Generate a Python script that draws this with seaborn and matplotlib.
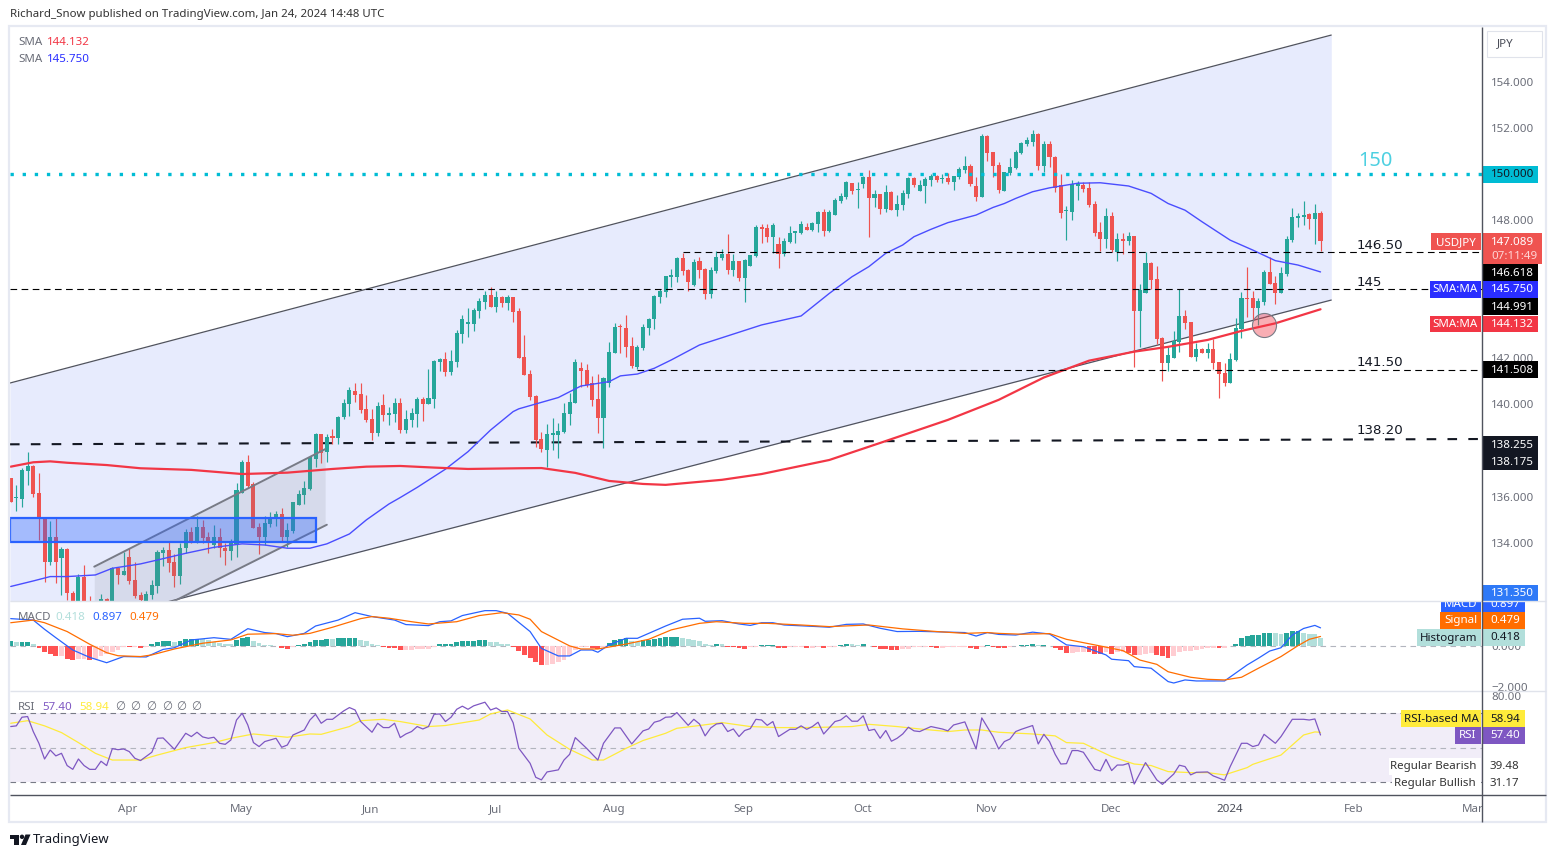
import matplotlib
matplotlib.use("Agg")
import matplotlib.pyplot as plt
from matplotlib.patches import Rectangle, Circle, Polygon
import seaborn as sns

# USDJPY daily candles
opens = [136.79,135.94,135.90,137.13,137.33,136.14,135.05,133.18,134.23,133.35,
    133.73,131.80,131.00,132.53,131.20,130.90,131.00,131.56,131.20,132.89,
    132.60,133.37,132.38,131.73,131.40,131.73,132.10,133.57,133.68,133.18,
    132.56,133.76,134.47,134.05,134.67,134.23,133.90,134.23,133.79,133.64,
    133.95,136.17,137.49,136.55,134.67,134.26,134.81,135.10,135.23,134.23,
    134.50,135.64,136.07,136.33,137.65,138.72,137.95,138.57,138.53,139.47,
    140.02,140.58,140.45,139.80,139.35,138.78,139.97,139.54,139.59,140.05,
    138.89,139.33,139.59,140.24,140.02,140.25,141.86,141.97,141.40,141.86,
    143.06,143.50,143.49,144.05,144.46,144.75,144.23,144.65,144.42,144.65,
    144.06,142.05,141.31,140.38,138.49,138.02,138.69,138.68,138.79,139.59,
    140.08,141.58,141.50,140.92,140.22,139.43,140.92,142.25,143.38,143.32,
    142.54,141.64,142.44,143.32,143.69,144.68,144.90,145.55,145.55,146.36,
    145.83,145.18,146.22,145.88,144.79,145.80,146.34,146.53,145.83,146.22,
    145.50,146.00,146.44,147.68,147.65,147.28,146.95,146.53,147.05,147.45,
    147.45,147.70,147.57,147.83,148.35,147.52,148.23,148.83,149.00,149.59,
    149.30,149.56,149.88,148.96,149.13,148.48,149.22,148.44,148.65,149.13,
    149.82,149.26,149.48,149.74,149.93,149.78,149.81,149.64,149.88,150.17,
    150.34,149.48,149.01,151.65,150.94,150.39,149.27,150.05,150.26,150.92,
    151.30,151.40,151.73,150.34,151.30,150.75,149.52,148.38,148.35,149.50,
    149.52,149.38,148.70,147.48,147.20,148.17,146.61,147.20,147.09,147.30,
    144.07,144.85,146.14,145.43,142.87,141.81,142.03,142.71,143.84,143.58,
    142.07,142.39,142.22,142.39,141.84,141.35,140.94,141.93,143.27,144.60,
    144.60,144.17,144.46,145.73,145.25,144.85,145.66,147.13,148.10,148.15,
    148.26,148.04,148.32]
highs = [136.79,136.50,137.23,137.94,137.37,137.01,135.05,134.93,135.10,133.83,
    133.76,131.90,132.63,133.03,131.70,131.30,131.76,131.60,132.95,132.96,
    133.61,133.76,133.18,131.88,131.92,132.38,133.68,133.80,134.05,133.51,
    133.97,134.58,134.70,135.16,134.99,134.48,134.77,134.62,133.97,134.15,
    136.58,137.59,137.80,136.62,134.87,135.16,135.35,135.39,135.49,134.87,
    135.78,136.29,136.69,137.70,138.78,138.72,138.72,138.92,139.50,140.22,
    140.74,140.94,140.94,140.41,139.79,140.10,140.45,139.87,140.26,140.27,
    139.76,139.83,140.34,140.34,141.53,141.93,142.00,142.26,142.36,143.23,
    143.88,144.17,144.20,144.60,144.92,145.08,144.92,144.72,144.75,144.68,
    144.17,143.02,141.50,140.41,138.82,139.14,139.40,139.18,140.05,140.48,
    141.96,141.83,141.74,141.25,141.31,141.18,142.70,143.52,143.48,143.88,
    142.91,142.58,143.49,143.77,144.75,144.99,145.59,145.88,146.38,146.59,
    145.88,146.30,146.38,145.91,145.96,146.66,146.74,147.39,146.53,146.22,
    146.30,146.50,147.77,147.83,147.83,147.86,147.25,147.21,147.74,147.52,
    147.96,147.89,147.93,148.39,148.48,148.44,148.94,149.16,149.71,149.59,
    149.66,149.92,150.17,149.30,149.13,149.52,149.27,149.09,149.30,149.85,
    149.85,149.74,149.88,150.00,149.95,150.00,150.03,149.91,150.29,150.78,
    150.43,149.85,151.73,151.69,150.94,150.50,150.07,150.68,151.04,151.40,
    151.59,151.91,151.76,151.43,151.43,150.78,150.00,148.61,149.74,149.71,
    149.66,149.66,148.83,147.91,148.54,148.35,147.42,147.42,147.48,147.30,
    145.22,146.63,146.17,146.00,142.91,142.50,143.18,145.00,144.10,143.58,
    142.65,142.43,142.65,142.84,141.84,141.81,142.25,143.73,144.86,145.95,
    144.94,144.60,145.83,146.41,145.57,145.95,147.30,148.54,148.32,148.82,
    148.32,148.70,148.39]
lows = [135.78,135.39,135.56,136.50,135.97,134.12,132.31,133.03,132.27,131.73,
    131.50,130.90,130.70,130.90,130.60,130.50,130.80,131.00,131.00,132.21,
    132.60,132.21,131.59,131.20,131.30,131.56,131.80,133.00,132.75,132.06,
    132.21,133.57,133.97,133.97,133.97,133.57,133.76,133.40,133.03,133.25,
    133.40,136.14,136.36,134.65,133.51,133.90,134.70,134.73,134.05,133.83,
    134.44,135.64,135.68,136.29,137.27,137.47,137.52,138.28,138.28,139.35,
    139.50,140.12,139.64,139.25,138.46,138.63,139.30,139.11,139.25,138.78,
    138.78,139.04,139.04,139.30,140.02,139.86,141.47,141.24,141.28,141.64,
    142.65,142.94,143.20,143.75,144.14,144.23,144.03,144.24,144.10,143.59,
    142.03,141.29,140.19,138.17,137.95,137.27,138.02,137.69,138.75,139.11,
    140.05,140.77,140.77,139.95,138.78,138.10,140.74,142.22,142.25,142.07,
    141.60,141.53,142.36,143.01,143.27,144.42,144.68,145.11,145.33,145.62,
    144.94,145.14,145.50,144.56,144.60,145.72,146.27,145.66,145.59,145.35,
    144.46,146.00,146.41,147.02,147.06,146.58,145.93,146.44,147.02,147.02,
    147.38,147.57,147.52,147.50,147.32,147.50,148.22,148.73,148.90,149.13,
    148.54,149.38,147.28,148.55,148.26,148.36,148.44,148.18,148.44,148.94,
    149.43,149.26,148.75,149.48,149.66,149.59,149.56,149.30,149.77,150.03,
    149.48,148.83,149.01,150.58,149.85,149.19,149.27,149.95,150.23,150.89,
    151.21,151.21,150.17,150.10,150.32,149.23,148.07,147.13,148.00,148.87,
    149.20,148.55,147.30,146.66,146.81,146.63,146.24,146.55,146.92,141.64,
    142.50,144.85,145.00,142.62,141.00,141.47,142.03,142.29,143.29,142.07,
    141.90,142.25,142.00,141.52,140.29,140.80,140.94,141.90,142.87,143.80,
    143.66,143.45,144.33,145.22,144.36,144.85,145.59,147.05,147.68,147.78,
    147.62,146.96,146.66]
closes = [135.78,135.94,137.16,137.33,136.11,135.05,133.18,134.23,133.18,133.73,
    131.83,131.10,132.53,131.20,130.90,130.80,131.56,131.20,132.89,132.60,
    132.77,132.34,131.69,131.50,131.76,132.17,133.58,133.68,133.14,132.56,
    133.77,134.47,134.05,134.67,134.19,134.05,134.26,133.76,133.64,134.00,
    136.29,137.52,136.46,134.65,134.26,134.84,135.10,135.23,134.23,134.55,
    135.75,136.11,136.36,137.70,138.72,137.91,138.60,138.55,139.47,140.08,
    140.63,140.41,139.76,139.32,138.78,139.93,139.54,139.64,140.08,138.89,
    139.36,139.65,140.24,140.02,140.28,141.90,141.97,141.40,141.89,143.12,
    143.71,143.53,144.10,144.49,144.75,144.23,144.68,144.42,144.65,144.03,
    142.03,141.29,140.34,138.46,138.05,138.70,138.73,138.85,139.62,140.11,
    141.86,141.47,140.85,140.20,139.43,141.13,142.26,143.35,143.36,142.51,
    141.67,142.48,143.35,143.71,144.70,144.92,145.57,145.56,146.37,145.81,
    145.33,146.20,145.83,144.79,145.83,146.38,146.53,145.83,146.22,145.50,
    146.27,146.48,147.68,147.63,147.28,147.78,146.53,147.09,147.42,147.47,
    147.81,147.57,147.86,148.35,147.54,148.35,148.87,149.04,149.64,149.26,
    149.32,149.88,148.96,149.13,148.49,149.22,148.44,148.70,149.17,149.82,
    149.52,149.52,149.78,149.93,149.74,149.80,149.66,149.91,150.21,150.34,
    149.56,149.01,151.65,150.92,150.34,149.30,150.07,150.29,150.95,151.36,
    151.47,151.73,150.34,151.30,150.72,149.38,148.29,148.40,149.56,149.52,
    149.35,148.65,147.45,147.20,148.17,146.70,147.20,147.09,147.30,144.07,
    144.96,146.14,145.40,142.84,141.81,142.14,142.74,143.84,143.55,142.07,
    142.39,142.25,142.39,141.81,141.32,140.94,141.96,143.30,144.60,144.58,
    144.17,144.49,145.73,145.22,144.85,145.69,147.16,148.12,148.12,148.17,
    148.04,148.32,147.09]

# moving averages, read at the bars listed
sma50_x = [0,4,7,10,15,18,23,26,31,36,41,45,49,53,56,60,63,67,69,72,
    77,81,85,89,90,97,101,106,108,111,114,117,122,133,140,145,149,152,155,158,
    160,163,166,171,174,176,178,181,184,189,193,198,202,205,208,211,216,220,224,228,232]
sma50 = [132.1,132.34,132.53,132.53,132.6,132.89,133.08,133.25,133.54,133.8,
    133.95,133.9,133.76,133.76,133.95,134.38,134.99,135.68,135.96,136.4,
    137.19,137.95,138.89,139.69,139.81,140.3,140.8,140.99,141.24,141.32,
    141.57,141.93,142.58,143.45,143.84,144.82,145.54,145.98,146.56,146.92,
    147.28,147.6,147.89,148.22,148.55,148.72,148.94,149.23,149.4,149.6,
    149.62,149.48,149.16,148.72,148.43,147.93,147.13,146.7,146.24,146.05,145.75]
sma200_x = [0,4,7,10,17,23,32,41,49,57,63,69,75,81,90,94,100,106,112,116,
    126,133,145,154,166,175,183,191,199,205,212,218,224,232]
sma200 = [137.3,137.49,137.53,137.47,137.37,137.23,137.16,136.98,137.04,137.2,
    137.3,137.33,137.26,137.2,137.23,137.24,137.03,136.68,136.55,136.51,
    136.73,136.98,137.59,138.33,139.33,140.2,141.17,141.9,142.29,142.5,
    142.8,143.19,143.52,144.13]

# MACD pane
histogram = [.24,.20,.21,.21,.10,-.10,-.29,-.39,-.47,-.47,
    -.62,-.67,-.62,-.62,-.65,-.62,-.49,-.36,-.29,-.16,
    -.03,-.05,-.05,-.08,-.02,.10,.20,.26,.26,.21,
    .28,.34,.36,.37,.36,.33,.23,.18,.13,.11,
    .29,.42,.44,.28,.15,.08,.07,.02,-.08,-.13,
    -.02,.07,.11,.21,.31,.33,.37,.36,.39,.41,
    .42,.42,.33,.24,.10,.05,-.05,-.08,-.10,-.18,
    -.18,-.16,-.15,-.13,-.11,-.03,.10,.10,.13,.20,
    .26,.26,.28,.29,.31,.21,.20,.13,.11,-.03,
    -.23,-.42,-.57,-.75,-.91,-.91,-.86,-.76,-.65,-.49,
    -.16,-.05,-.05,-.08,-.15,-.03,.16,.31,.36,.39,
    .24,.23,.29,.33,.37,.42,.46,.46,.46,.41,
    .36,.31,.24,.11,.07,.11,.10,-.02,-.03,-.07,
    -.11,-.03,-.02,.07,.07,.07,-.07,-.08,-.05,-.05,
    -.05,-.07,-.07,-.03,-.07,-.05,-.02,.05,.11,.10,
    .07,.11,.02,-.02,-.11,-.13,-.16,-.18,-.15,-.11,
    -.05,-.03,-.03,-.05,-.07,-.07,-.05,-.05,-.05,-.03,
    -.07,-.11,-.02,.05,-.02,-.07,-.10,-.05,.02,.05,
    .05,.10,.05,.05,.02,-.10,-.20,-.33,-.31,-.29,
    -.27,-.29,-.36,-.38,-.26,-.36,-.29,-.29,-.33,-.42,
    -.42,-.36,-.33,-.42,-.49,-.57,-.45,-.26,-.21,-.21,
    -.16,-.11,-.09,-.07,-.08,-.08,.03,.13,.42,.52,
    .55,.56,.65,.65,.63,.62,.65,.75,.75,.65,
    .62,.58,.42]
macd_x = [0,4,6,8,11,14,17,20,24,27,29,32,36,39,42,45,47,49,52,54,
    58,61,64,68,70,74,76,78,80,84,86,88,92,94,97,99,101,103,104,106,
    109,111,113,116,119,122,123,126,129,131,133,135,137,143,145,148,151,154,157,161,
    169,171,173,175,178,181,184,187,190,194,195,198,199,202,205,206,208,210,215,219,
    221,223,225,227,229,231,232]
macd = [1.35,1.28,.83,.42,-.18,-.54,-.80,-.50,-.52,-.15,-.07,.31,.42,.34,.86,.67,.62,.47,.63,.99,
    1.28,1.64,1.45,1.28,1.06,1.01,1.20,1.24,1.50,1.74,1.74,1.61,.72,-.10,-.47,-.47,-.18,-.18,-.29,.07,
    .39,.39,.63,.99,1.32,1.37,1.22,1.25,1.09,1.02,1.15,1.15,1.04,.96,.93,1.07,1.09,.88,.72,.73,
    .67,.50,.67,.58,.55,.69,.60,.07,-.02,-.42,-.63,-.70,-.99,-1.07,-1.72,-1.79,-1.64,-1.69,-1.69,-.91,
    -.58,-.23,-.07,.55,.87,1.02,.90]
signal_x = [0,4,6,10,14,17,19,23,25,29,34,39,42,47,50,53,57,62,64,67,
    71,74,79,83,87,90,92,94,99,101,104,109,113,117,122,125,130,134,140,145,
    152,158,164,169,173,175,179,184,187,192,197,200,203,205,209,212,215,218,221,225,
    228,230,232]
signal = [1.15,1.28,1.15,.72,.10,-.31,-.46,-.50,-.42,-.13,.15,.31,.59,.62,.54,.63,.93,1.35,1.45,1.37,
    1.20,1.09,1.20,1.50,1.64,1.53,1.32,.72,.02,-.13,-.13,.11,.34,.80,1.12,1.20,1.12,1.12,1.04,.96,
    1.04,.85,.72,.63,.67,.63,.59,.62,.34,.07,-.21,-.67,-.88,-1.24,-1.51,-1.61,-1.64,-1.51,-1.07,-.50,
    .03,.34,.48]

# RSI pane
rsi_x = [0,1,2,3,4,5,6,7,8,9,
    10,11,12,13,14,15,16,17,18,19,
    20,21,22,23,25,26,27,29,31,32,
    33,34,35,36,37,38,39,40,41,42,
    43,44,45,47,48,49,50,52,53,54,
    55,56,57,59,60,61,62,64,65,66,
    67,68,69,70,71,72,73,74,75,76,
    77,78,79,80,81,82,84,85,86,87,
    88,89,90,92,93,94,95,97,98,99,
    100,102,104,105,107,108,110,112,113,114,
    115,116,117,118,120,121,122,123,124,125,
    126,127,128,129,130,131,132,133,134,135,
    136,138,139,140,141,142,143,144,146,147,
    148,149,150,151,152,153,154,155,156,157,
    158,159,160,161,163,165,166,167,169,171,
    172,174,175,176,177,178,179,181,182,183,
    184,185,186,187,188,189,190,192,193,194,
    195,196,197,198,199,201,203,204,206,207,
    208,209,210,212,213,215,216,218,219,220,
    221,222,224,225,227,229,230,231,232]
rsi = [62.3,62.7,67.7,68.1,59.4,52.6,43.5,48.7,45.3,46.8,
    39.7,37.5,43.5,39.7,37.5,37.5,42.2,39.7,49.5,48.9,
    49.3,47.8,43.9,42.6,47.4,55.5,55.7,49.1,58.4,56.5,
    59.0,56.3,55.5,56.1,52.6,52.0,54.5,66.1,70.0,63.2,
    53.0,50.7,53.6,55.5,50.3,51.6,57.4,60.3,66.1,69.4,
    64.2,66.5,66.5,71.4,73.3,71.9,65.2,59.0,64.2,61.7,
    61.7,64.2,55.9,58.0,59.4,62.3,60.9,62.3,69.4,69.6,
    65.2,67.7,72.3,74.1,72.3,74.3,76.4,71.9,73.1,71.0,
    71.0,64.5,49.7,41.0,32.9,31.4,36.0,37.2,42.9,46.2,
    55.9,49.7,42.9,52.6,61.5,61.5,52.2,59.8,60.9,64.8,
    65.7,67.7,67.9,70.4,63.0,66.5,63.8,56.9,61.5,63.8,
    64.2,59.4,60.9,56.5,60.0,61.1,66.5,66.1,63.0,65.2,
    56.5,60.7,60.7,62.7,60.7,62.3,64.8,58.0,65.2,66.1,
    68.6,65.4,65.4,68.5,60.0,60.7,55.5,60.0,53.8,55.5,
    58.0,61.9,59.8,59.4,62.3,60.9,59.8,63.2,65.0,49.3,
    67.3,56.5,49.3,53.6,55.1,59.4,60.7,62.9,52.2,57.8,
    53.6,46.2,40.6,40.8,48.4,48.4,47.4,37.5,36.6,43.3,
    36.8,40.0,40.0,41.0,29.0,41.4,31.4,28.8,34.8,39.9,
    39.1,34.3,35.8,36.0,33.7,31.2,39.1,52.6,52.6,50.7,
    51.6,57.8,52.6,56.5,66.5,66.5,66.1,66.7,57.4]
rsi_ma_x = [0,3,6,9,12,15,18,23,26,31,36,39,43,49,53,55,60,62,66,69,
    74,77,83,85,88,92,95,99,103,105,109,112,116,118,122,126,131,136,140,144,
    149,152,157,161,166,169,172,175,181,185,187,190,195,199,202,205,209,212,215,219,
    220,225,227,229,231,232]
rsi_ma = [64.2,65.7,62.7,58.8,53,46.8,42.9,42.9,45.8,50.1,53,55.5,58,56.1,58,57.8,62.3,65.7,66.5,65.2,
    62.3,62.9,66.1,69.6,71.9,66.7,57.4,49.1,42.9,42.9,49.7,54.2,58.4,61.3,62.9,64.6,62.3,61.7,61.7,61.9,
    62.3,63.6,62.3,60.9,59.4,60.3,60.3,59,58,56.9,53,52.6,44.9,40.6,39.7,36.2,35.6,35.6,34.3,38.5,
    40.4,45.8,51.6,57.4,59.2,58.94]

# 138, 144, 146 and 150 sit behind price tags in the reference
price_ticks = [132, 134, 136, 140, 142, 148, 152, 154]
month_ticks = [20.8, 40.8, 63.8, 85.8, 106.9, 129.7, 150.8, 172.9, 194.9, 216, 237.8, 258.9]
month_labels = ["Apr", "May", "Jun", "Jul", "Aug", "Sep", "Oct", "Nov", "Dec", "2024", "Feb", "Mar"]

UP, DOWN = "#26A69A", "#EF5350"
GREY = "#6A6D78"
INK = "#131722"
W, H = 1556, 857
X_LIM = (-0.12, 260.6)
TICK_PT = 8.3


def pane(top, bottom):
    # panes are placed in pixels, measured from the top of the picture
    a = fig.add_axes([10 / W, 1 - bottom / H, 1472 / W, (bottom - top) / H])
    a.set_xlim(*X_LIM)
    a.yaxis.tick_right()
    a.tick_params(axis="y", length=0, pad=6.5, labelsize=TICK_PT, labelcolor=GREY)
    a.set_xticks([])
    a.set_xlabel("")
    a.patch.set_alpha(0)
    sns.despine(ax=a, left=True, right=True, top=True, bottom=True)
    return a


sns.set_theme(style="white")
plt.rcParams["font.family"] = ["Noto Sans", "DejaVu Sans"]
fig = plt.figure(figsize=(W / 100, H / 100), dpi=100, facecolor="white")

# --- price pane ---
ax = pane(27, 601)
ax.set_ylim(131.47, 156.38)
ax.set_yticks(price_ticks, [f"{p}.000" for p in price_ticks])

chan_x = [-0.12, 233.9]
ax.fill_between(chan_x, [129.66, 144.53], [140.93, 156.03], color="#E7EBFD", lw=0, zorder=1)
ax.plot(chan_x, [129.66, 144.53], color="#50535E", lw=0.9, zorder=2)
ax.plot(chan_x, [140.93, 156.03], color="#50535E", lw=0.9, zorder=2)

# horizontal levels
dash = dict(color="black", lw=0.8, ls=(0, (6, 4)), dash_capstyle="butt", zorder=5)
ax.plot([119, X_LIM[1]], [146.618, 146.618], **dash)
ax.plot([X_LIM[0], X_LIM[1]], [144.991, 144.991], **dash)
ax.plot([111, X_LIM[1]], [141.508, 141.508], **dash)
ax.plot([X_LIM[0], X_LIM[1]], [138.27, 138.5], color=INK, lw=1.5,
        ls=(0, (4.6, 5.4)), dash_capstyle="butt", zorder=2)
ax.plot([X_LIM[0], X_LIM[1]], [150, 150], color="#00BCD4", lw=2.4,
        ls=(0, (1, 2.64)), dash_capstyle="butt", zorder=5)

# candles
bars = range(len(closes))
colors = [UP if c >= o else DOWN for o, c in zip(opens, closes)]
ax.vlines(bars, lows, highs, colors=colors, lw=0.85, zorder=3)
ax.bar(bars, [max(abs(c - o), 0.06) for o, c in zip(opens, closes)],
       bottom=[min(o, c) for o, c in zip(opens, closes)],
       width=0.72, color=colors, lw=0, zorder=3)

# small channel and the blue zone go over the candles
ax.fill_between([14.8, 55.7], [129.73, 134.74], [132.96, 138.06],
                color="#787B86", alpha=0.15, lw=0, zorder=4)
ax.plot([14.8, 55.7], [132.96, 138.06], color="#787B86", lw=1.4, zorder=4)
ax.plot([14.8, 56], [129.73, 134.78], color="#787B86", lw=1.4, zorder=4)
ax.add_patch(Rectangle((X_LIM[0], 134.02), 54.0 - X_LIM[0], 1.04, facecolor="#2962FF",
                       alpha=0.35, lw=0, zorder=4))
ax.add_patch(Rectangle((X_LIM[0], 134.02), 54.0 - X_LIM[0], 1.04, fill=False,
                       edgecolor="#2962FF", lw=1.6, zorder=4))

sns.lineplot(x=sma50_x, y=sma50, ax=ax, color="#4A4DFF", lw=1.0, estimator=None,
             errorbar=None, zorder=4)
sns.lineplot(x=sma200_x, y=sma200, ax=ax, color="#F23645", lw=1.6, estimator=None,
             errorbar=None, zorder=4)
ax.scatter([221.9], [143.44], s=300, facecolor=(0.95, 0.21, 0.27, 0.4),
           edgecolor="#787B86", lw=0.8, zorder=6)
ax.set_xlabel("")
ax.set_ylabel("")
ax.set_xticks([])

# --- MACD pane ---
ax_macd = pane(601, 691)
ax_macd.set_ylim(-2.18, 2.21)
ax_macd.set_yticks([-2, 0], ["\u22122.000", "0.000"])
ax_macd.axhline(0, color="#B2B5BE", lw=0.8, ls=(0, (5, 4)), zorder=1)
hist_colors = []
for i, v in enumerate(histogram):
    prev = histogram[i - 1] if i else 0
    if v >= 0:
        hist_colors.append("#26A69A" if v >= prev else "#B2DFDB")
    else:
        hist_colors.append("#FFCDD2" if v >= prev else "#FF5252")
ax_macd.bar(range(len(histogram)), histogram, width=0.85, color=hist_colors, lw=0, zorder=2)
sns.lineplot(x=macd_x, y=macd, ax=ax_macd, color="#2962FF", lw=0.9, estimator=None,
             errorbar=None, zorder=3)
sns.lineplot(x=signal_x, y=signal, ax=ax_macd, color="#FF6D00", lw=0.9, estimator=None,
             errorbar=None, zorder=3)
ax_macd.set_xticks([])
ax_macd.set_ylabel("")

# --- RSI pane ---
ax_rsi = pane(691, 795)
ax_rsi.set_ylim(22.64, 82.9)
ax_rsi.set_yticks([80], ["80.00"])
ax_rsi.axhspan(30, 70, color="#7E57C2", alpha=0.1, lw=0, zorder=1)
ax_rsi.axhline(70, color="#787B86", lw=0.8, ls=(0, (5, 4)), zorder=2)
ax_rsi.axhline(50, color="#B2B5BE", lw=0.8, ls=(0, (5, 4)), zorder=2)
ax_rsi.axhline(30, color="#787B86", lw=0.8, ls=(0, (5, 4)), zorder=2)
sns.lineplot(x=rsi_ma_x, y=rsi_ma, ax=ax_rsi, color="#FFEB3B", lw=0.9, estimator=None,
             errorbar=None, zorder=3)
sns.lineplot(x=rsi_x, y=rsi, ax=ax_rsi, color="#7E57C2", lw=0.9, estimator=None,
             errorbar=None, zorder=4)
ax_rsi.set_xticks(month_ticks, month_labels)
ax_rsi.tick_params(axis="x", length=0, pad=6.8, labelsize=TICK_PT, labelcolor=GREY)
ax_rsi.get_xticklabels()[9].set_fontweight("bold")
ax_rsi.get_xticklabels()[9].set_color("#4A4D58")
ax_rsi.set_ylabel("")

# --- frame, price tags and legends, on an overlay measured in pixels ---
ov = fig.add_axes([0, 0, 1, 1], zorder=10)
ov.set_xlim(0, W)
ov.set_ylim(H, 0)
ov.axis("off")
ov.patch.set_alpha(0)


def line(x0, y0, x1, y1, color, lw):
    ov.plot([x0, x1], [y0, y1], color=color, lw=lw, solid_capstyle="butt")


def label(x, y, s, color=GREY, size=TICK_PT, ha="left", **kw):
    return ov.text(x, y, s, color=color, fontsize=size, ha=ha, va="center", **kw)


def tag(x0, x1, y0, y1, bg, s=None, fg="white", text_x=None, ha="center", weight="normal"):
    box = Rectangle((x0, y0), x1 - x0, y1 - y0, facecolor=bg, lw=0)
    ov.add_patch(box)
    if s is not None:
        tx = text_x if text_x is not None else (x0 + x1) / 2
        label(tx, (y0 + y1) / 2 + 0.5, s, color=fg, ha=ha, weight=weight)
    return box


ov.add_patch(Rectangle((9, 26), 1537, 796, fill=False, edgecolor="#E6E9F2", lw=1.6))
line(10, 601, 1482, 601, "#E0E3EB", 1.0)
line(10, 691, 1482, 691, "#E0E3EB", 1.0)
line(1482, 601, 1546, 601, "#E0E3EB", 1.0)
line(1482, 691, 1546, 691, "#E0E3EB", 1.0)
line(10, 795, 1546, 795, "#50535E", 1.0)
line(1482, 27, 1482, 822, "#50535E", 1.0)

# drawn levels
label(1358, 161, "150", color="#4DD0E1", size=14.4, weight="medium")
for y, s in [(245, "146.50"), (282, "145"), (362, "141.50"), (430, "138.20")]:
    label(1357, y, s, color=INK, size=9.6, family="DejaVu Sans")

# price scale tags
tag(1482, 1538, 166, 182.7, "#00BCD4", "150.000", fg=INK, text_x=1491, ha="left")
tag(1431, 1481, 233.3, 250, "#EF5350", "USDJPY")
tag(1482, 1542, 233.3, 264, "#EF5350")
label(1491, 242, "147.089", color="white")
label(1491, 256, "07:11:49", color="#FFD5D5")
tag(1482, 1538, 264, 281, "black", "146.618", text_x=1491, ha="left")
tag(1430, 1481, 281, 298, "#2A2EFF", "SMA:MA")
tag(1482, 1538, 281, 298, "#2A2EFF", "145.750", text_x=1491, ha="left")
tag(1482, 1538, 298, 315, "black", "144.991", text_x=1491, ha="left")
tag(1430, 1481, 315.5, 332, "#F23645", "SMA:MA")
tag(1482, 1538, 315.5, 332, "#F23645", "144.132", text_x=1491, ha="left")
tag(1482, 1538, 361, 378, "black", "141.508", text_x=1491, ha="left")
tag(1482, 1538, 436, 453, INK, "138.255", text_x=1491, ha="left")
tag(1482, 1538, 453, 470, INK, "138.175", text_x=1491, ha="left")
tag(1482, 1538, 585, 601, "#2E79F7", "131.350", text_x=1491, ha="left")

# MACD tags, the first pair is cut by the pane edge
macd_box = tag(1441, 1481, 602, 611.7, "#2962FF")
val_box = tag(1482, 1525, 602, 611.7, "#2962FF")
for t, box in [(label(1461, 604.5, "MACD", color="white", ha="center"), macd_box),
               (label(1490, 604.5, "0.897", color="white"), val_box)]:
    t.set_clip_on(True)
    t.set_clip_path(box)
tag(1440, 1481, 612, 628.5, "#FF6D00", "Signal")
tag(1482, 1525, 612, 628.5, "#FF6D00", "0.479", text_x=1490, ha="left")
tag(1417, 1481, 629, 646, "#B2DFDB", "Histogram", fg=INK)
tag(1482, 1525, 629, 646, "#B2DFDB", "0.418", fg=INK, text_x=1490, ha="left")

# RSI tags
tag(1401, 1481, 710, 727, "#FFEB3B", "RSI-based MA", fg=INK)
tag(1482, 1525, 710, 727, "#FFEB3B", "58.94", fg=INK, text_x=1490, ha="left")
tag(1455, 1481, 727, 744, "#7E57C2", "RSI")
tag(1482, 1525, 727, 744, "#7E57C2", "57.40", text_x=1490, ha="left")
tag(1389, 1481, 758, 775, "white", "Regular Bearish", fg="#333333", text_x=1476, ha="right")
tag(1392, 1481, 775, 791, "white", "Regular Bullish", fg="#333333", text_x=1476, ha="right")
label(1490, 766.5, "39.48", color="#333333")
label(1490, 783.5, "31.17", color="#333333")

# pane legends
label(10, 14.5, "Richard_Snow published on TradingView.com, Jan 24, 2024 14:48 UTC",
      color="#333333", size=8.25)
label(18, 42, "SMA")
label(47, 42, "144.132", color="#F23645")
label(18, 59, "SMA")
label(47, 59, "145.750", color="#2A2EFF")
label(18, 617, "MACD")
label(55, 617, "0.418", color="#B2DFDB")
label(92, 617, "0.897", color="#2962FF")
label(129, 617, "0.479", color="#FF6D00")
label(18, 707, "RSI")
label(42, 707, "57.40", color="#7E57C2")
label(79, 707, "58.94", color="#FFEB3B")
for x in [115, 130, 146, 162, 176, 191]:
    label(x, 707, "\u2205")

# currency button
ov.add_patch(Rectangle((1487, 31), 55, 26, fill=False, edgecolor="#E0E3EB", lw=0.8))
label(1505, 44, "JPY", ha="center", color="#4A4D58")

# TradingView mark
ov.add_patch(Rectangle((10, 834.5), 9, 4, facecolor=INK, lw=0))
ov.add_patch(Rectangle((14.5, 834.5), 4.5, 10.5, facecolor=INK, lw=0))
ov.add_patch(Circle((22, 836.8), 2.2, facecolor=INK, lw=0))
ov.add_patch(Polygon([(25.5, 834.5), (30.5, 834.5), (26, 845), (21, 845)], facecolor=INK, lw=0))
label(33, 839, "TradingView", color=INK, size=9.4)

fig.savefig("out.png", dpi=100, facecolor="white")
